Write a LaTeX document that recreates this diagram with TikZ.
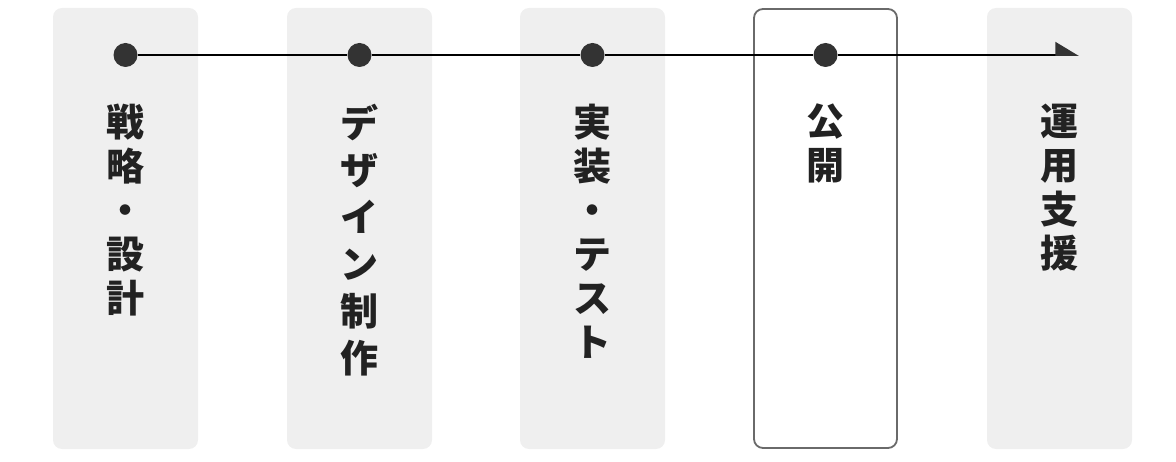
\documentclass[tikz,border=0pt]{standalone}
\usepackage{fontspec}
\newfontfamily\jpfont{Noto Sans CJK JP}
\usetikzlibrary{arrows.meta}
\definecolor{boxgray}{HTML}{EFEFEF}
\definecolor{rimgray}{HTML}{6A6A6A}
\definecolor{dotgray}{HTML}{333333}
\definecolor{inkgray}{HTML}{222222}

\begin{document}
\begin{tikzpicture}[x=1pt,y=-1pt]
\tikzstyle{phase}=[rectangle, rounded corners=9pt, minimum width=145pt, minimum height=441pt, inner sep=0pt, fill=boxgray]
\tikzstyle{current}=[phase, fill=white, draw=rimgray, line width=1.8pt, minimum width=143pt, minimum height=439pt]
\tikzstyle{stop}=[circle, minimum size=24pt, inner sep=0pt, fill=dotgray]
\tikzstyle{label}=[anchor=north, inner sep=0pt, align=center, text=inkgray, font=\jpfont\bfseries\fontsize{38}{44}\selectfont]
\useasboundingbox (0,0) rectangle (1176,462);
\draw (125.5,228.5) node (p1) [phase] {};
\draw (359.5,228.5) node (p2) [phase] {};
\draw (592.5,228.5) node (p3) [phase] {};
\draw (825.5,228.5) node (p4) [current] {};
\draw (1059.5,228.5) node (p5) [phase] {};
\draw (125.5,55) node (s1) [stop] {};
\draw (359.5,55) node (s2) [stop] {};
\draw (592.5,55) node (s3) [stop] {};
\draw (825.5,55) node (s4) [stop] {};
\coordinate (goal) at (1079,55);
\draw[line width=2pt] (s1) -- (s2);
\draw[line width=2pt] (s2) -- (s3);
\draw[line width=2pt] (s3) -- (s4);
\draw[line width=2pt, -{Triangle[harpoon, length=22pt, width=26pt, color=dotgray]}] (s4) -- (goal);
\draw (125.5,104) node (t1) [label] {戦\\略\\・\\設\\計};
\draw (359.5,104) node (t2) [label, font=\jpfont\bfseries\fontsize{38}{47}\selectfont] {デ\\ザ\\イ\\ン\\制\\作};
\draw (592.5,104) node (t3) [label] {実\\装\\・\\テ\\ス\\ト};
\draw (825.5,104) node (t4) [label] {公\\開};
\draw (1059.5,104) node (t5) [label] {運\\用\\支\\援};
\end{tikzpicture}
\end{document}
